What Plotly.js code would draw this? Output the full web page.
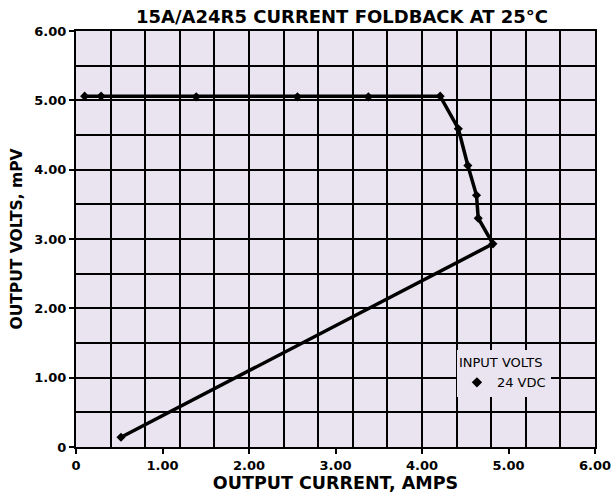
<!DOCTYPE html>
<html>
<head>
<meta charset="utf-8">
<script src="https://cdn.plot.ly/plotly-3.0.1.min.js"></script>
<style>html,body{margin:0;padding:0;background:#fff;}#chart{width:613px;height:498px;}</style>
</head>
<body>
<div id="chart"></div>
<script>
// Output current (A) and output voltage readings, 24 VDC input
var currentAmps = [0.10, 0.29, 1.39, 2.56, 3.38, 4.21, 4.42, 4.53, 4.63, 4.65, 4.82, 0.52];
var outputVolts = [5.06, 5.06, 5.05, 5.05, 5.05, 5.06, 4.59, 4.06, 3.63, 3.30, 2.93, 0.14];
var seriesName = '24 VDC';
var legendTitle = 'INPUT VOLTS';
var xTickVals = [0, 1, 2, 3, 4, 5, 6];
var xTickText = ['0', '1.00', '2.00', '3.00', '4.00', '5.00', '6.00'];
var yTickVals = [0, 1, 2, 3, 4, 5, 6];
var yTickText = ['0', '1.00', '2.00', '3.00', '4.00', '5.00', '6.00'];
var chartTitle = '15A/A24R5 CURRENT FOLDBACK AT 25\u00B0C';
var xTitle = 'OUTPUT CURRENT, AMPS';
var yTitle = 'OUTPUT VOLTS, mPV';

var bg = '#e9e4f0';
var fnt = 'DejaVu Sans, Liberation Sans, sans-serif';

var traces = [
  {
    x: currentAmps, y: outputVolts, mode: 'lines+markers', showlegend: false,
    line: {color: '#000', width: 3.5},
    marker: {symbol: 'diamond', size: 7, color: '#000'},
    cliponaxis: false
  },
  {
    x: [null], y: [null], mode: 'markers', name: seriesName,
    marker: {symbol: 'diamond', size: 8, color: '#000'}
  }
];

var axisCommon = {
  showline: true, mirror: true, linecolor: '#000', linewidth: 2,
  ticks: 'outside', ticklen: 5, tickcolor: '#000', tickwidth: 2,
  zeroline: false, showgrid: false,
  tickfont: {family: fnt, size: 13, color: '#000', weight: 'bold'}
};

var layout = {
  width: 613, height: 498,
  margin: {l: 76, r: 18, t: 31, b: 51},
  paper_bgcolor: '#fff', plot_bgcolor: bg,
  title: {text: chartTitle, x: 0.558, xref: 'container', xanchor: 'center',
          y: 0.966, yref: 'container', yanchor: 'middle',
          font: {family: fnt, size: 18, color: '#000', weight: 'bold'}},
  xaxis: Object.assign({}, axisCommon, {
    range: [0, 6], tickvals: xTickVals, ticktext: xTickText,
    minor: {dtick: 0.4, tick0: 0, showgrid: true, gridcolor: '#000', gridwidth: 2, ticks: ''},
    title: {text: xTitle, standoff: 2, font: {family: fnt, size: 17.5, color: '#000', weight: 'bold'}}
  }),
  yaxis: Object.assign({}, axisCommon, {
    range: [0, 6], tickvals: yTickVals, ticktext: yTickText,
    minor: {dtick: 0.5, tick0: 0, showgrid: true, gridcolor: '#000', gridwidth: 2, ticks: ''},
    title: {text: yTitle, standoff: 8, font: {family: fnt, size: 15.5, color: '#000', weight: 'bold'}}
  }),
  legend: {
    x: 0.734, y: 0.232, xanchor: 'left', yanchor: 'top',
    bgcolor: bg, borderwidth: 0,
    title: {text: legendTitle, font: {family: fnt, size: 13, color: '#000'}},
    font: {family: fnt, size: 13, color: '#000'},
    itemwidth: 30
  }
};

Plotly.newPlot('chart', traces, layout, {displayModeBar: false, staticPlot: true});
</script>
</body>
</html>
